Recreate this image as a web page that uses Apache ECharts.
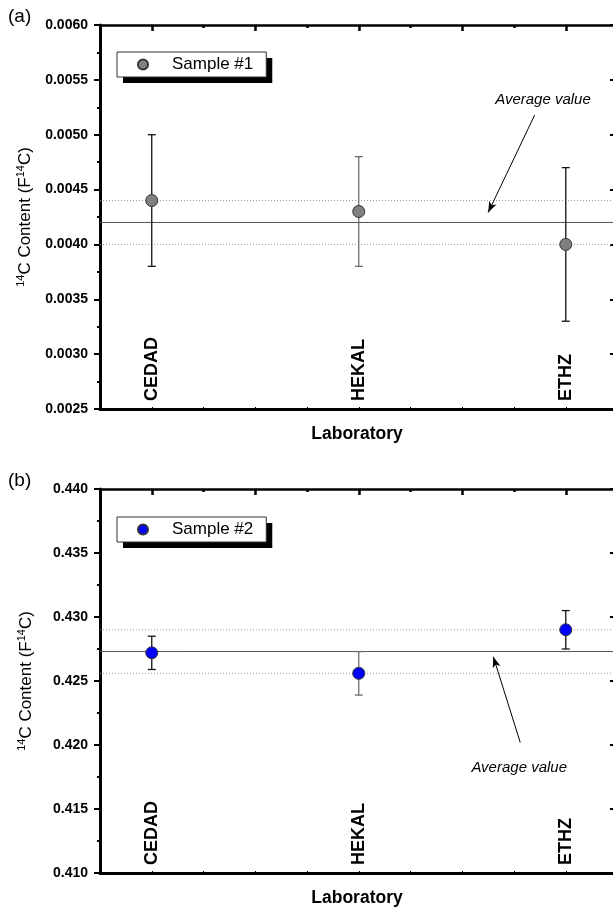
<!DOCTYPE html>
<html>
<head>
<meta charset="utf-8">
<title>14C content by laboratory</title>
<script src="https://cdn.jsdelivr.net/npm/echarts@6/dist/echarts.min.js"></script>
<style>
  html, body { margin: 0; padding: 0; background: #fff; }
  #chart { width: 613px; height: 908px; }
</style>
</head>
<body>
<div id="chart"></div>
<script>
// 实验室及其在x轴上的位置
const labs = ['CEDAD', 'HEKAL', 'ETHZ'];
const labPos = [1, 3, 5];
const xMajorTicks = [1, 2, 3, 4, 5];
const xMinorTicks = [1.5, 2.5, 3.5, 4.5];

// Sample #1 (a)
const s1Values = [0.0044, 0.0043, 0.0040];
const s1Errors = [0.0006, 0.0005, 0.0007];
const s1Average = 0.0042;
const s1Band = [0.0040, 0.0044];
const s1AxisRange = [0.0025, 0.0060, 0.0005];

// Sample #2 (b)
const s2Values = [0.4272, 0.4256, 0.4290];
const s2Errors = [0.0013, 0.0017, 0.0015];
const s2Average = 0.4273;
const s2Band = [0.4256, 0.4290];
const s2AxisRange = [0.410, 0.440, 0.005];

// "Average value" 标注（数据坐标）
const s1Arrow = [[4.70, 0.00518], [4.25, 0.00429]];
const s1ArrowText = [4.78, 0.00532];
const s2Arrow = [[4.56, 0.4202], [4.30, 0.4269]];
const s2ArrowText = [4.55, 0.4182];

const FONT = 'Liberation Sans, Arial, sans-serif';
const X_MIN = 0.5;
const X_MAX = 5.466;
// 误差棒颜色（HEKAL 为灰色）
const ERR_COLORS = ['#111', '#6e6e6e', '#111'];

// 误差棒
function renderErrorBar(params, api) {
  const x = api.value(0);
  const lo = api.coord([x, api.value(1)]);
  const hi = api.coord([x, api.value(2)]);
  const cap = 4;
  const style = { stroke: ERR_COLORS[params.dataIndex], lineWidth: 1.3 };
  return {
    type: 'group',
    children: [
      { type: 'line', shape: { x1: lo[0], y1: lo[1], x2: hi[0], y2: hi[1] }, style: style },
      { type: 'line', shape: { x1: lo[0] - cap, y1: lo[1], x2: lo[0] + cap, y2: lo[1] }, style: style },
      { type: 'line', shape: { x1: hi[0] - cap, y1: hi[1], x2: hi[0] + cap, y2: hi[1] }, style: style }
    ]
  };
}

// x轴：底部（标签）、顶部主刻度、顶部次刻度
function buildXAxes(gridIndex) {
  return [
    {
      type: 'value', gridIndex: gridIndex, position: 'bottom', min: X_MIN, max: X_MAX,
      name: 'Laboratory', nameLocation: 'middle', nameGap: 16,
      nameTextStyle: { fontWeight: 'bold', fontSize: 17.5, color: '#000', fontFamily: FONT },
      axisLine: { lineStyle: { color: '#000', width: 3 } },
      axisTick: { inside: true, length: 2, customValues: xMajorTicks.concat(xMinorTicks), lineStyle: { color: '#000' } },
      axisLabel: {
        inside: true, rotate: 90, margin: 8, customValues: labPos,
        formatter: (v) => labs[labPos.indexOf(v)] || '',
        fontWeight: 'bold', fontSize: 18, color: '#000', fontFamily: FONT
      },
      splitLine: { show: false }
    },
    {
      type: 'value', gridIndex: gridIndex, position: 'top', min: X_MIN, max: X_MAX,
      axisLine: { lineStyle: { color: '#000', width: 2.5 } },
      axisTick: { inside: true, length: 6, customValues: xMajorTicks, lineStyle: { color: '#000', width: 2.5 } },
      axisLabel: { show: false },
      splitLine: { show: false }
    },
    {
      type: 'value', gridIndex: gridIndex, position: 'top', min: X_MIN, max: X_MAX,
      axisLine: { show: false },
      axisTick: { inside: true, length: 3, customValues: xMinorTicks, lineStyle: { color: '#000', width: 2.5 } },
      axisLabel: { show: false },
      splitLine: { show: false }
    }
  ];
}

// y轴：左（标签）+ 右
function buildYAxes(gridIndex, range, digits) {
  return [
    {
      type: 'value', gridIndex: gridIndex, position: 'left',
      min: range[0], max: range[1], interval: range[2],
      name: '{s|14}{n|C Content (F}{s|14}{n|C)}', nameLocation: 'middle', nameGap: 64,
      nameTextStyle: {
        rich: {
          n: { fontSize: 17, lineHeight: 20, color: '#000', fontFamily: FONT },
          s: { fontSize: 11, lineHeight: 20, verticalAlign: 'top', color: '#000', fontFamily: FONT }
        }
      },
      axisLine: { show: true, lineStyle: { color: '#000', width: 3 } },
      axisTick: { show: true, length: 6, lineStyle: { color: '#000', width: 2 } },
      minorTick: { show: true, splitNumber: 2, length: 3, lineStyle: { color: '#000', width: 2 } },
      axisLabel: {
        margin: 12, fontWeight: 'bold', fontSize: 14, color: '#000', fontFamily: FONT,
        formatter: (v) => v.toFixed(digits)
      },
      splitLine: { show: false }
    },
    {
      type: 'value', gridIndex: gridIndex, position: 'right',
      min: range[0], max: range[1], interval: range[2],
      axisLine: { show: true, lineStyle: { color: '#000', width: 2 } },
      axisTick: { show: true, inside: true, length: 4, lineStyle: { color: '#000', width: 2 } },
      axisLabel: { show: false },
      splitLine: { show: false }
    }
  ];
}

// 水平参考线（平均值与范围），横跨整个x轴
function refLine(xIdx, yIdx, value, color, type) {
  return {
    type: 'line', xAxisIndex: xIdx, yAxisIndex: yIdx, z: 1, silent: true,
    symbol: 'none',
    lineStyle: { color: color, width: 1, type: type },
    data: [[X_MIN, value], [X_MAX, value]]
  };
}

// 每个面板的系列
function buildSeries(name, xIdx, yIdx, values, errors, avg, band, arrow, arrowText, color) {
  const errData = labPos.map((x, i) => [x, values[i] - errors[i], values[i] + errors[i]]);
  const pointData = labPos.map((x, i) => [x, values[i]]);
  return [
    refLine(xIdx, yIdx, avg, '#555', 'solid'),
    refLine(xIdx, yIdx, band[0], '#999', [1, 2]),
    refLine(xIdx, yIdx, band[1], '#999', [1, 2]),
    {
      type: 'custom', xAxisIndex: xIdx, yAxisIndex: yIdx, z: 2,
      renderItem: renderErrorBar,
      encode: { x: 0, y: [1, 2] },
      data: errData,
      silent: true,
      markLine: {
        silent: true, symbol: ['none', 'none'], animation: false,
        label: { show: false },
        data: [
          [
            { coord: arrow[0], symbol: 'none', lineStyle: { color: '#000', width: 1, type: 'solid' } },
            { coord: arrow[1], symbol: 'arrow', symbolSize: [6, 11] }
          ]
        ]
      },
      markPoint: {
        silent: true, symbol: 'circle', symbolSize: 1,
        itemStyle: { color: 'rgba(0,0,0,0)' },
        label: {
          show: true, position: 'inside', formatter: 'Average value',
          fontStyle: 'italic', fontSize: 15, color: '#000', fontFamily: FONT
        },
        data: [{ coord: arrowText }]
      }
    },
    {
      name: name, type: 'scatter', xAxisIndex: xIdx, yAxisIndex: yIdx, z: 3,
      symbol: 'circle', symbolSize: 12,
      itemStyle: { color: color, borderColor: '#333', borderWidth: 1, opacity: 1 },
      data: pointData
    }
  ];
}

// 图例：底层带黑色阴影的白底，上层只画边框（避免边框阴影落到框内）
function buildLegends(name, top) {
  const base = {
    data: [name], left: 117, top: top, orient: 'horizontal',
    icon: 'circle', itemWidth: 10, itemHeight: 10, itemGap: 0,
    padding: [4, 13, 4, 20]
  };
  const text = { fontSize: 17, fontFamily: FONT, padding: [0, 0, 0, 19] };
  return [
    Object.assign({}, base, {
      backgroundColor: '#fff', borderWidth: 0,
      shadowColor: '#000', shadowBlur: 0, shadowOffsetX: 6, shadowOffsetY: 6,
      textStyle: Object.assign({ color: '#000' }, text)
    }),
    Object.assign({}, base, {
      backgroundColor: 'transparent', borderColor: '#333', borderWidth: 1,
      itemStyle: { opacity: 0 },
      textStyle: Object.assign({ color: 'rgba(0,0,0,0)' }, text)
    })
  ];
}

const chart = echarts.init(document.getElementById('chart'));

const option = {
  animation: false,
  backgroundColor: '#fff',
  textStyle: { fontFamily: FONT },
  title: [
    { text: '(a)', left: 8, top: 7, padding: 0, textStyle: { fontSize: 19, fontWeight: 'normal', color: '#000', fontFamily: FONT } },
    { text: '(b)', left: 8, top: 471, padding: 0, textStyle: { fontSize: 19, fontWeight: 'normal', color: '#000', fontFamily: FONT } }
  ],
  legend: buildLegends('Sample #1', 52).concat(buildLegends('Sample #2', 517)),
  grid: [
    { left: 100, top: 25, width: 514, height: 384, outerBoundsMode: 'none' },
    { left: 100, top: 489, width: 514, height: 384, outerBoundsMode: 'none' }
  ],
  xAxis: buildXAxes(0).concat(buildXAxes(1)),
  yAxis: buildYAxes(0, s1AxisRange, 4).concat(buildYAxes(1, s2AxisRange, 3)),
  series: buildSeries('Sample #1', 0, 0, s1Values, s1Errors, s1Average, s1Band, s1Arrow, s1ArrowText, '#808080')
    .concat(buildSeries('Sample #2', 3, 2, s2Values, s2Errors, s2Average, s2Band, s2Arrow, s2ArrowText, '#0000ff'))
};

chart.setOption(option);
</script>
</body>
</html>
